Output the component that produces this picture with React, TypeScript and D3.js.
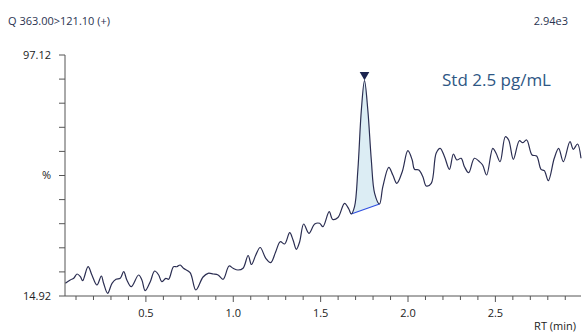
import React from 'react'
import * as d3 from 'd3'

// retention time (min) and relative intensity (%)
const rt = [
  0.039, 0.067, 0.087, 0.106, 0.125, 0.138, 0.169, 0.191, 0.22, 0.245,
  0.258, 0.281, 0.306, 0.329, 0.353, 0.373, 0.391, 0.416, 0.458, 0.477,
  0.496, 0.525, 0.55, 0.573, 0.591, 0.614, 0.63, 0.658, 0.677, 0.696,
  0.715, 0.753, 0.786, 0.827, 0.856, 0.885, 0.913, 0.942, 0.976, 0.999,
  1.027, 1.056, 1.085, 1.104, 1.129, 1.154, 1.186, 1.214, 1.243, 1.269,
  1.294, 1.323, 1.342, 1.361, 1.38, 1.403, 1.433, 1.466, 1.494, 1.513,
  1.549, 1.569, 1.599, 1.637, 1.662, 1.675, 1.694, 1.713, 1.733, 1.751,
  1.77, 1.79, 1.809, 1.837, 1.856, 1.89, 1.913, 1.936, 1.967, 1.999,
  2.024, 2.037, 2.062, 2.085, 2.104, 2.133, 2.161, 2.184, 2.209, 2.237,
  2.26, 2.279, 2.304, 2.323, 2.347, 2.38, 2.409, 2.427, 2.45, 2.485,
  2.504, 2.527, 2.557, 2.576, 2.603, 2.637, 2.656, 2.679, 2.71, 2.736,
  2.761, 2.78, 2.803, 2.837, 2.862, 2.889, 2.927, 2.946, 2.97, 2.99,
]
const intensity = [
  19.25, 20.38, 20.96, 22.42, 21.5, 20.14, 24.91, 22.08, 18.67, 21.74,
  19.25, 15.84, 19.25, 20.62, 20.96, 23.21, 20.38, 18.09, 22.08, 20.38,
  16.73, 19.8, 23.45, 22.08, 19.8, 20.96, 20.62, 24.91, 24.91, 25.49,
  24.37, 22.87, 16.97, 21.4, 22.66, 22.42, 22.08, 20.62, 25.15, 24.37,
  23.79, 24.37, 28.73, 25.66, 28.9, 31.46, 27.78, 26.28, 30.03, 33.44,
  32.66, 36.51, 34.02, 30.85, 33.44, 39.48, 36.31, 39.48, 39.72, 38.56,
  43.67, 41.01, 41.69, 46.54, 44.49, 42.89, 45.38, 57.9, 78.36, 88.35,
  78.36, 61.31, 49.95, 46.3, 52.2, 58.82, 56.19, 53.36, 57.32, 64.48,
  61.31, 58.13, 57.9, 55.61, 52.44, 53.36, 63.59, 65.3, 62.43, 58.13,
  63.35, 61.31, 61.89, 59.02, 56.97, 61.89, 60.73, 59.6, 56.19, 65.3,
  63.59, 60.73, 69.25, 68.13, 61.55, 67.89, 67.21, 68.13, 63.01, 62.67,
  58.13, 57.66, 54.25, 61.89, 65.3, 60.73, 67.55, 64.96, 66.76, 61.89,
]

// integrated peak: start / apex / end indices into the arrays
const peakStart = 65
const peakApex = 69
const peakEnd = 73

const yDomain = [14.92, 97.12]
const xDomain = [0.037, 2.99]
const xMajorTicks = [0.5, 1.0, 1.5, 2.0, 2.5]
const xMinorTicks = [0.1, 0.2, 0.3, 0.4, 0.6, 0.7, 0.8, 0.9, 1.1, 1.2, 1.3, 1.4, 1.6, 1.7, 1.8, 1.9, 2.1, 2.2, 2.3, 2.4, 2.6, 2.7, 2.8, 2.9]
const yTickCount = 10

const title = 'Q 363.00>121.10 (+)'
const scaleLabel = '2.94e3'
const sampleLabel = 'Std 2.5 pg/mL'
const xTitle = 'RT (min)'

const W = 582
const H = 333
const margin = { left: 65, right: 1, top: 55, bottom: 37 }
const font = '"Open Sans", "DejaVu Sans", sans-serif'
const axisColor = '#555'
const lineColor = '#2b2e52'

export default function App() {
  const x = d3.scaleLinear().domain(xDomain).range([margin.left, W - margin.right])
  const y = d3.scaleLinear().domain(yDomain).range([H - margin.bottom, margin.top])

  const pts: [number, number][] = rt.map((t, i) => [t, intensity[i]])
  const line = d3.line<[number, number]>()
    .x(d => x(d[0]))
    .y(d => y(d[1]))
    .curve(d3.curveCatmullRom.alpha(0.5))

  const p0 = pts[peakStart]
  const p1 = pts[peakEnd]
  const base = d3.scaleLinear().domain([p0[0], p1[0]]).range([p0[1], p1[1]])
  const peakPts = pts.slice(peakStart, peakEnd + 1)
  const area = d3.area<[number, number]>()
    .x(d => x(d[0]))
    .y0(d => y(base(d[0])))
    .y1(d => y(d[1]))
    .curve(d3.curveCatmullRom.alpha(0.5))

  const yStep = (yDomain[1] - yDomain[0]) / yTickCount
  const yTicks = d3.range(yTickCount + 1).map(i => yDomain[0] + i * yStep)
  const x0 = margin.left
  const yb = H - margin.bottom
  const apex = pts[peakApex]
  const tri = d3.symbol(d3.symbolTriangle, 40)()

  return (
    <div>
      <style>{'body{margin:0}'}</style>
      <svg width={W} height={H} style={{ display: 'block', fontFamily: font }}>
        <rect width={W} height={H} fill="#fff" />
        <text x={8} y={25} fontSize={11} fill="#2a3350">{title}</text>
        <text x={568} y={25} fontSize={11} fill="#2a3350" textAnchor="end">{scaleLabel}</text>

        {/* peak fill + baseline */}
        <path d={area(peakPts) || ''} fill="#dcedf4" />
        <line x1={x(p0[0])} y1={y(p0[1])} x2={x(p1[0])} y2={y(p1[1])} stroke="#2f4fe0" strokeWidth={1.2} />

        {/* trace */}
        <path d={line(pts) || ''} fill="none" stroke={lineColor} strokeWidth={1.2} strokeLinejoin="round" />

        <path d={tri || ''} transform={`translate(${x(apex[0])},${y(apex[1]) - 6}) rotate(180)`} fill="#1c2550" />

        <text x={442} y={86} fontSize={17} fill="#2e5784">{sampleLabel}</text>

        {/* y axis */}
        <line x1={x0} x2={x0} y1={y(yDomain[1])} y2={yb} stroke={axisColor} strokeWidth={1} />
        {yTicks.map((t, i) => (
          <line key={i} x1={x0 - 6} x2={x0} y1={y(t)} y2={y(t)} stroke={axisColor} strokeWidth={1} />
        ))}
        <text x={51} y={y(yDomain[1])} dy="0.35em" fontSize={11} textAnchor="end" fill="#222">{yDomain[1].toFixed(2)}</text>
        <text x={51} y={y(yDomain[0])} dy="0.35em" fontSize={11} textAnchor="end" fill="#222">{yDomain[0].toFixed(2)}</text>
        <text x={51} y={y(yTicks[5])} dy="0.35em" fontSize={11} textAnchor="end" fill="#222">%</text>

        {/* x axis */}
        <line x1={x0} x2={W - margin.right} y1={yb} y2={yb} stroke={axisColor} strokeWidth={1} />
        {xMinorTicks.map(t => (
          <line key={t} x1={x(t)} x2={x(t)} y1={yb} y2={yb + 4} stroke={axisColor} strokeWidth={1} />
        ))}
        {xMajorTicks.map(t => (
          <g key={t}>
            <line x1={x(t)} x2={x(t)} y1={yb} y2={yb + 6} stroke={axisColor} strokeWidth={1} />
            <text x={x(t)} y={yb + 21} fontSize={11} textAnchor="middle" fill="#222">{t.toFixed(1)}</text>
          </g>
        ))}
        <text x={576} y={330} fontSize={11} textAnchor="end" fill="#222">{xTitle}</text>
      </svg>
    </div>
  )
}
